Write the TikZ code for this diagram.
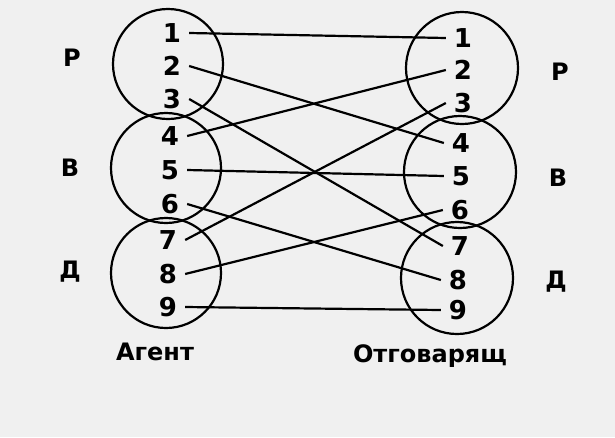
\documentclass[tikz,border=0pt]{standalone}
\usepackage{fontspec}
\setmainfont{DejaVu Sans}
\begin{document}
\begin{tikzpicture}[x=1pt,y=-1pt,line width=2.2pt,
  num/.style={font=\bfseries\fontsize{26}{26}\selectfont,inner sep=7pt},
  lbl/.style={font=\bfseries\fontsize{24}{24}\selectfont}]
\fill[gray!12] (0,0) rectangle (615,437);
\useasboundingbox (0,0) rectangle (615,437);

% circles
\draw (168,64) circle (55);
\draw (166,168) circle (55);
\draw (166,273) circle (55);
\draw (462,68) circle (56);
\draw (460,172) circle (56);
\draw (457,278) circle (56);

% agent numbers
\node[num] (a1) at (172,33) {1};
\node[num] (a2) at (172,66) {2};
\node[num] (a3) at (172,99) {3};
\node[num] (a4) at (170,136) {4};
\node[num] (a5) at (170,170) {5};
\node[num] (a6) at (170,204) {6};
\node[num] (a7) at (168,240) {7};
\node[num] (a8) at (168,274) {8};
\node[num] (a9) at (168,307) {9};

% respondent numbers
\node[num] (r1) at (463,38) {1};
\node[num] (r2) at (463,70) {2};
\node[num] (r3) at (463,103) {3};
\node[num] (r4) at (461,143) {4};
\node[num] (r5) at (461,176) {5};
\node[num] (r6) at (460,210) {6};
\node[num] (r7) at (460,246) {7};
\node[num] (r8) at (458,280) {8};
\node[num] (r9) at (458,310) {9};

% group labels
\node[lbl] (pl) at (72,58) {Р};
\node[lbl] (vl) at (70,168) {В};
\node[lbl] (dl) at (70,272) {Д};
\node[lbl] (pr) at (560,72) {Р};
\node[lbl] (vr) at (558,178) {В};
\node[lbl] (dr) at (556,282) {Д};

\node[lbl] (agent) at (155,352) {Агент};
\node[lbl] (otg) at (430,356) {Отговарящ};

% links
\draw (a1.east) -- (r1.west);
\draw (a2.east) -- (r4.west);
\draw (a3.east) -- (r7.west);
\draw (a4.east) -- (r2.west);
\draw (a5.east) -- (r5.west);
\draw (a6.east) -- (r8.west);
\draw (a7.east) -- (r3.west);
\draw (a8.east) -- (r6.west);
\draw (a9.east) -- (r9.west);
\end{tikzpicture}
\end{document}
